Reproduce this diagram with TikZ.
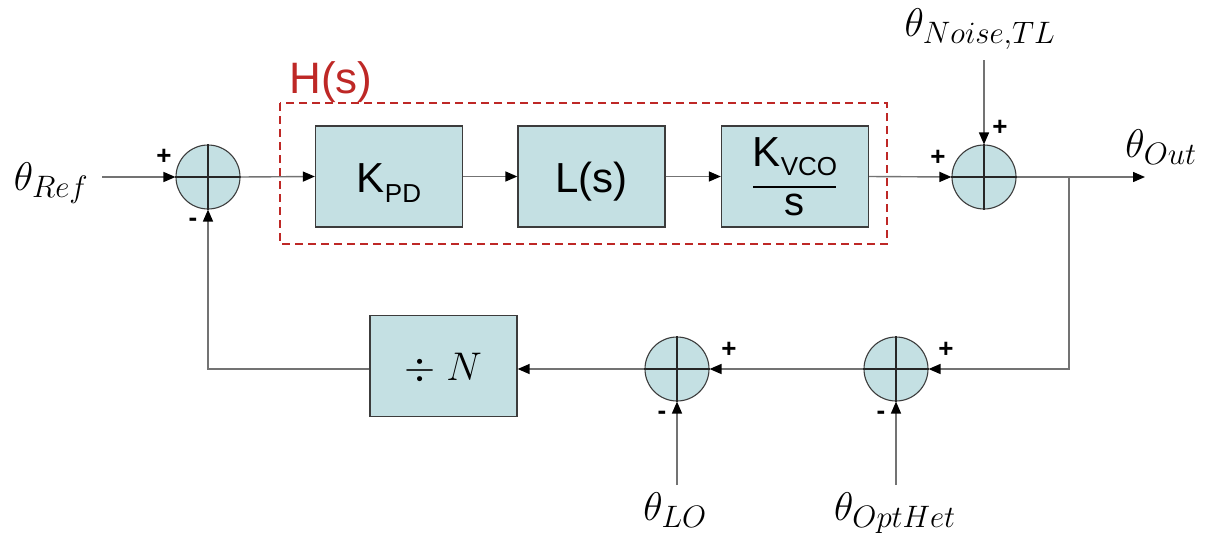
\RequirePackage{fix-cm}
\documentclass[tikz,border=0pt]{standalone}
\usepackage{fontspec}
\newfontfamily\arial{Liberation Sans}
\usetikzlibrary{arrows.meta,calc}
\DeclareMathSizes{40}{40}{31}{22}

\definecolor{tealfill}{RGB}{196,224,227}
\definecolor{boxline}{RGB}{60,60,60}
\definecolor{wiregray}{RGB}{115,115,115}
\definecolor{hred}{RGB}{190,40,38}

\begin{document}
\begin{tikzpicture}[x=1pt,y=-1pt,
  blk/.style={draw=boxline, fill=tealfill, line width=1.3pt,
    minimum width=147pt, minimum height=101pt, inner sep=0pt},
  sumnode/.style={circle, draw=boxline, fill=tealfill, line width=1.1pt,
    minimum size=64pt, inner sep=0pt},
  crossline/.style={draw=black!85, line width=1.1pt},
  wire/.style={draw=wiregray, line width=1.4pt},
  arr/.style={wire, -{Triangle[length=12pt,width=10pt,color=black]}},
  sign/.style={font=\arial\bfseries\fontsize{26}{26}\selectfont, inner sep=0pt},
  sig/.style={font=\fontsize{40}{42}\selectfont, inner sep=0pt, anchor=base},
  blktext/.style={font=\arial\fontsize{42}{44}\selectfont, inner sep=0pt, anchor=base}
]
\useasboundingbox (0,0) rectangle (1218,539);

% H(s) group outline
\draw[hred, line width=1.8pt, dash pattern=on 8pt off 5pt] (280,103) rectangle (887,244);
\node[font=\arial\fontsize{44}{44}\selectfont, text=hred, inner sep=0pt, anchor=base] (hlabel) at (331,93) {H(s)};

% forward path blocks
\node[blk] (kpd)  at (389,176.5) {};
\node[blk] (ls)   at (591.5,176.5) {};
\node[blk] (kvco) at (795,176.5) {};
\node[blk] (divn) at (443.5,366) {};

\node[blktext] (kpdtxt) at (389,192) {K\raisebox{-10pt}{\fontsize{26}{26}\selectfont PD}};
\node[blktext] (lstxt) at (591.5,192) {L(s)};
\node[blktext] (kvcotxt) at (795,166) {K\raisebox{-9pt}{\fontsize{26}{26}\selectfont VCO}};
\node[blktext, font=\arial\fontsize{40}{40}\selectfont] (kvcos) at (794,215) {s};
\draw[black, line width=2.6pt] ($(kvco.center)+(-42,10.5)$) -- ($(kvco.center)+(41,10.5)$);
\node[sig] (divtxt) at (443,380) {$\div\;N$};

% summing junctions
\node[sumnode] (s1) at (208,177) {};
\node[sumnode] (s2) at (984,177) {};
\node[sumnode] (s3) at (677,369) {};
\node[sumnode] (s4) at (896,369) {};
\foreach \s in {s1,s2,s3,s4}
  \draw[crossline] (\s.north) -- (\s.south) (\s.west) -- (\s.east);

% free wire ends
\coordinate (refin)   at (102,177);
\coordinate (noisein) at (984,60);
\coordinate (out)     at (1145,177);
\coordinate (tap)     at (1069,177);
\coordinate (loin)    at (677,485);
\coordinate (hetin)   at (896,485);

% connections
\draw[arr] (refin) -- (s1.west);
\draw[arr] (s1.east) -- (kpd.west);
\draw[arr] (kpd.east) -- (ls.west);
\draw[arr] (ls.east) -- (kvco.west);
\draw[arr] (kvco.east) -- (s2.west);
\draw[arr] (noisein) -- (s2.north);
\draw[arr] (s2.east) -- (out);
\draw[arr] (tap) |- (s4.east);
\draw[arr] (s4.west) -- (s3.east);
\draw[arr] (s3.west) -- (s3.west -| divn.east);
\draw[arr] (divn.west |- s3) -| (s1.south);
\draw[arr] (loin) -- (s3.south);
\draw[arr] (hetin) -- (s4.south);

% signal names
\node[sig] (tref)   at (51,190)   {$\theta_{Ref}$};
\node[sig] (tout)   at (1161,157) {$\theta_{Out}$};
\node[sig] (tnoise) at (980,36)   {$\theta_{Noise,TL}$};
\node[sig] (tlo)    at (675,520)  {$\theta_{LO}$};
\node[sig] (thet)   at (895,520)  {$\theta_{OptHet}$};

% junction signs
\node[sign] (p1)  at (164,157) {+};
\node[sign] (m1)  at (193,222) {-};
\node[sign] (p2a) at (938,158) {+};
\node[sign] (p2b) at (1000,128) {+};
\node[sign] (p3)  at (729,350) {+};
\node[sign] (m3)  at (662,415) {-};
\node[sign] (p4)  at (946,350) {+};
\node[sign] (m4)  at (881,415) {-};
\end{tikzpicture}
\end{document}
